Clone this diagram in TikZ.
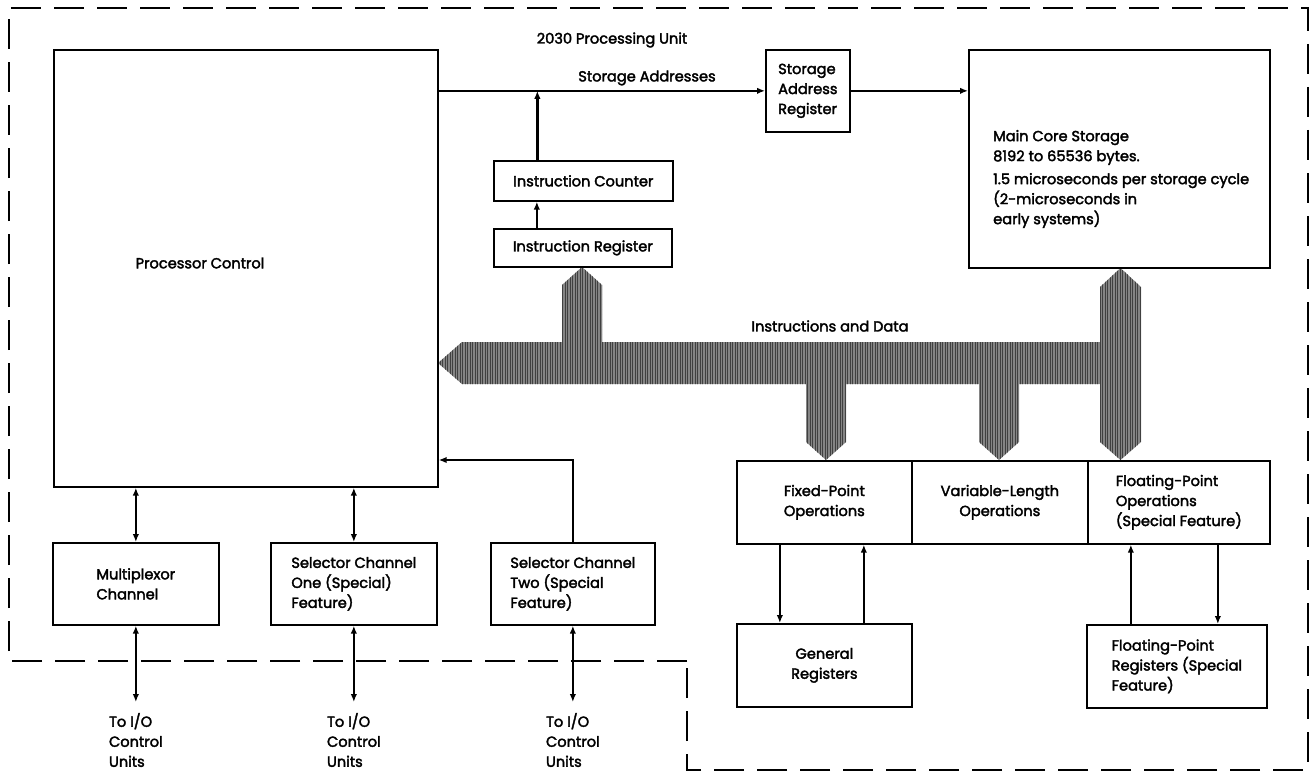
\documentclass[tikz,border=0pt]{standalone}
\usepackage{fontspec}
\setmainfont{Poppins}[FakeBold=2.4]
\usetikzlibrary{arrows.meta,patterns.meta}
\newcommand\fsz{\fontsize{14.6}{20}\selectfont}
\begin{document}
\begin{tikzpicture}[x=1pt,y=-1pt,
  box/.style={draw, line width=1.7pt, inner sep=0pt, font=\fsz, anchor=north west},
  lbl/.style={font=\fsz, inner sep=0pt},
  arr/.style={line width=2.3pt, -{Latex[length=8pt,width=6.5pt]}},
  darr/.style={line width=2.3pt, {Latex[length=8pt,width=6.5pt]}-{Latex[length=8pt,width=6.5pt]}},
  border/.style={line width=2pt, dash pattern=on 30pt off 13pt},
  bus/.style={fill=black!48, draw=none},
  bustex/.style={pattern={Lines[angle=90,distance=2.5pt,line width=0.5pt]}, pattern color=black!75}]
\useasboundingbox (0,0) rectangle (1314,773);
% outer dashed boundary
\draw[border] (687,661) -- (9,661) -- (9,8) -- (1308,8) -- (1308,770) -- (687,770) -- cycle;
% instruction and data bus
\def\buspath{(438,363) -- (462,342) -- (562,342) -- (562,285) -- (582,267) -- (602,285) -- (602,342)
  -- (1100,342) -- (1100,287) -- (1120.5,268) -- (1141,287) -- (1141,442) -- (1120.5,460) -- (1100,442)
  -- (1100,384) -- (1019,384) -- (1019,442) -- (999,460) -- (979,442) -- (979,384)
  -- (846,384) -- (846,442) -- (826,460) -- (806,442) -- (806,384) -- (462,384) -- cycle}
\fill[bus] \buspath;
\fill[bustex] \buspath;
% nodes
\node[lbl] (title) at (612,40) {2030 Processing Unit};
\node[box, minimum width=384pt, minimum height=437pt] (proc) at (53,49) {};
\node[lbl] (proct) at (200,263) {Processor Control};
\node[box, minimum width=84pt, minimum height=82pt, align=left] (sar) at (765,49) {Storage\\Address\\Register};
\node[box, minimum width=301pt, minimum height=218pt] (mcs) at (968,49) {};
\node[lbl, align=left, anchor=west] (mcst) at (993,179) {Main Core Storage\\8192 to 65536 bytes.\\[3pt]1.5 microseconds per storage cycle\\(2-microseconds in\\early systems)};
\node[box, minimum width=179pt, minimum height=40pt] (ic) at (493,160) {Instruction Counter};
\node[box, minimum width=178pt, minimum height=38pt] (ir) at (493,228) {Instruction Register};
\node[lbl] (sal) at (647,78) {Storage Addresses};
\node[lbl] (idl) at (830,326) {Instructions and Data};
\node[box, minimum width=175pt, minimum height=83pt, align=center] (fixed) at (736,460) {Fixed-Point\\Operations};
\node[box, minimum width=176pt, minimum height=83pt, align=center] (var) at (911,460) {Variable-Length\\Operations};
\node[box, minimum width=182pt, minimum height=83pt, align=left] (fpo) at (1087,460) {Floating-Point\\Operations\\(Special Feature)};
\node[box, minimum width=175pt, minimum height=83pt, align=center] (gr) at (736,623) {General\\Registers};
\node[box, minimum width=180pt, minimum height=83pt, align=left] (fpr) at (1086,624) {Floating-Point\\Registers (Special\\Feature)};
\node[box, minimum width=166pt, minimum height=82pt, align=left] (mux) at (52,542) {Multiplexor\\Channel};
\node[box, minimum width=166pt, minimum height=82pt, align=left] (sc1) at (270,542) {Selector Channel\\One (Special)\\Feature)};
\node[box, minimum width=164pt, minimum height=82pt, align=left] (sc2) at (490,542) {Selector Channel\\Two (Special\\Feature)};
\coordinate (io1) at (mux.south |- 0,702);
\coordinate (io2) at (sc1.south |- 0,702);
\coordinate (io3) at (sc2.south |- 0,702);
\node[lbl, align=left] (io1t) at (io1 |- 0,740) {To I/O\\Control\\Units};
\node[lbl, align=left] (io2t) at (io2 |- 0,740) {To I/O\\Control\\Units};
\node[lbl, align=left] (io3t) at (io3 |- 0,740) {To I/O\\Control\\Units};
% connectors
\draw[arr] (sar.west -| proc.east) -- (sar.west);
\coordinate (icx) at ([xshift=-46pt]ic.north);
\coordinate (irx) at ([xshift=-46pt]ir.north);
\draw[arr] (icx) -- (icx |- sar.west);
\draw[arr] (irx) -- (irx |- ic.south);
\draw[arr] (sar.east) -- (sar.east -| mcs.west);
\draw[darr] (mux.north) -- (mux.north |- proc.south);
\draw[darr] (sc1.north) -- (sc1.north |- proc.south);
\draw[arr] (sc2.north) |- (proc.east |- fixed.north);
\draw[darr] (mux.south) -- (io1);
\draw[darr] (sc1.south) -- (io2);
\draw[darr] (sc2.south) -- (io3);
\coordinate (fa) at ([xshift=-44.5pt]fixed.south);
\coordinate (fb) at ([xshift=39.5pt]fixed.south);
\coordinate (fc) at ([xshift=-48pt]fpo.south);
\coordinate (fd) at ([xshift=39pt]fpo.south);
\draw[arr] (fa) -- (fa |- gr.north);
\draw[arr] (fb |- gr.north) -- (fb);
\draw[arr] (fc |- fpr.north) -- (fc);
\draw[arr] (fd) -- (fd |- fpr.north);
\end{tikzpicture}
\end{document}
